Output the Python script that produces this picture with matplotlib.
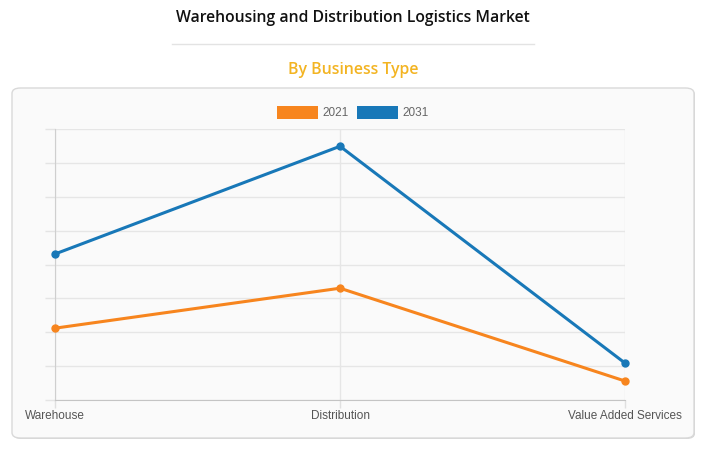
import matplotlib
matplotlib.use('Agg')
import matplotlib.pyplot as plt
from matplotlib.patches import FancyBboxPatch
from matplotlib.lines import Line2D
from matplotlib.patches import Rectangle

# chart data (no y scale shown, values read in grid units)
categories = ['Warehouse', 'Distribution', 'Value Added Services']
series_names = ['2021', '2031']
values_2021 = [2.12, 3.30, 0.56]
values_2031 = [4.31, 7.49, 1.09]

orange = '#f7851e'
blue = '#1878b8'

W, H = 704, 453
fig = plt.figure(figsize=(W / 100, H / 100), dpi=100)
fig.patch.set_facecolor('white')

def fx(px):
    return px / W

def fy(py):
    return 1 - py / H

# header
fig.text(fx(353), fy(18), 'Warehousing and Distribution Logistics Market',
         ha='center', va='center', fontsize=11.3, family='Open Sans', weight='semibold',
         color='#111111')
fig.add_artist(Line2D([fx(172), fx(534)], [fy(44), fy(44)], color='#e3e3e3', lw=1))
fig.text(fx(353), fy(70), 'By Business Type', ha='center', va='center',
         fontsize=11.4, family='Open Sans', weight='semibold', color='#f3b422')

# rounded card with soft shadow
shadow = FancyBboxPatch((fx(13), fy(439)), fx(682), fy(89) - fy(439),
                        boxstyle='round,pad=0,rounding_size=0.012',
                        transform=fig.transFigure, facecolor='#d6d6d6', edgecolor='none', zorder=-2)
card = FancyBboxPatch((fx(12), fy(438)), fx(682), fy(88) - fy(438),
                      boxstyle='round,pad=0,rounding_size=0.012',
                      transform=fig.transFigure, facecolor='#fafafa', edgecolor='#d9d9d9',
                      lw=1, zorder=-1)
fig.add_artist(shadow)
fig.add_artist(card)

# plot area
ax = fig.add_axes([fx(55), fy(400), fx(625) - fx(55), fy(129) - fy(400)])
ax.set_zorder(1)
ax.set_facecolor('none')
x = range(len(categories))
ax.plot(x, values_2021, color=orange, lw=2.2, marker='o', ms=5, zorder=3, clip_on=False)
ax.plot(x, values_2031, color=blue, lw=2.2, marker='o', ms=5, zorder=3, clip_on=False)

ax.set_xlim(0, 2)
ax.set_ylim(0, 8)
ax.set_yticks(range(0, 9))
ax.set_yticklabels([])
ax.set_xticks(list(x))
ax.set_xticklabels(categories, fontsize=8.5, family='Liberation Sans', color='#555555')
ax.tick_params(axis='y', length=7.2, color='#e4e4e4', width=1)
ax.tick_params(axis='x', length=6, color='#e0e0e0', width=1, pad=1)
ax.grid(True, axis='y', color='#e6e6e6', lw=1, zorder=0)
ax.grid(True, axis='x', color='#e6e6e6', lw=1, zorder=0)
for side in ['top', 'right']:
    ax.spines[side].set_visible(False)
ax.spines['left'].set_color('#cfcfcf')
ax.spines['bottom'].set_color('#c4c4c4')
ax.set_axisbelow(True)

# legend in the Chart.js style
fig.add_artist(Rectangle((fx(277), fy(119)), fx(41), fy(106) - fy(119),
                         transform=fig.transFigure, facecolor=orange, edgecolor='none'))
fig.text(fx(322), fy(113), series_names[0], ha='left', va='center', fontsize=8.5,
         family='Liberation Sans', color='#666666')
fig.add_artist(Rectangle((fx(357), fy(119)), fx(41), fy(106) - fy(119),
                         transform=fig.transFigure, facecolor=blue, edgecolor='none'))
fig.text(fx(402), fy(113), series_names[1], ha='left', va='center', fontsize=8.5,
         family='Liberation Sans', color='#666666')

fig.savefig('out.png', dpi=100)
